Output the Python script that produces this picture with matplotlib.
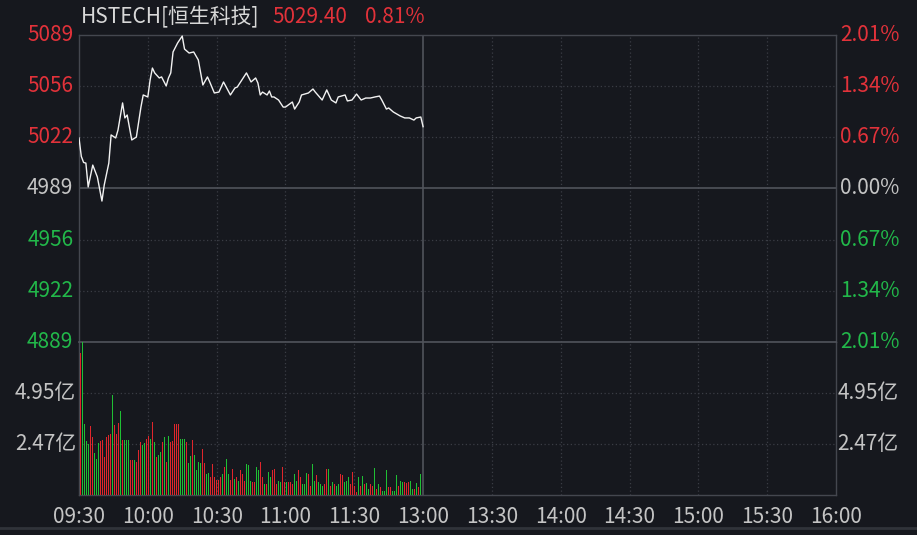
import numpy as np
import matplotlib
matplotlib.use("Agg")
import matplotlib.pyplot as plt

plt.rcParams['font.family'] = ['Noto Sans CJK SC', 'DejaVu Sans']

# ---------------- data ----------------
title_name = "HSTECH[恒生科技]"
last_price = 5029.40
change_pct = 0.81
prev_close = 4989.0

# minutes after 09:30 (trading minutes) and index level
price_minutes = [0, 1, 2, 3, 4, 6, 8, 10, 11, 13, 14, 16, 17, 19, 20, 21, 23, 25, 27, 28,
                 30, 31, 32, 33, 35, 36, 38, 39, 40, 41, 43, 45, 46, 48, 50, 52, 54, 56, 57, 59,
                 61, 63, 66, 68, 69, 73, 75, 77, 78, 79, 80, 82, 83, 84, 85, 87, 89, 90, 93, 94,
                 96, 97, 100, 102, 103, 106, 108, 110, 112, 113, 116, 117, 119, 121, 123, 125, 127, 129, 131, 132,
                 134, 135, 137, 140, 142, 144, 146, 147, 149, 150]
price_values = [5022.0, 5010.0, 5006.0, 5005.6, 4990.0, 5004.3, 4996.5, 4980.8, 4991.3, 5005.6,
                5024.0, 5022.0, 5027.2, 5044.9, 5035.1, 5037.0, 5020.7, 5022.6, 5042.2, 5050.1,
                5048.8, 5059.9, 5067.7, 5064.5, 5061.2, 5061.9, 5056.0, 5061.2, 5064.5, 5078.2,
                5084.1, 5088.6, 5080.1, 5077.5, 5078.2, 5073.0, 5056.6, 5061.9, 5058.6, 5051.4,
                5052.0, 5058.6, 5050.1, 5054.7, 5055.3, 5064.5, 5058.6, 5061.2, 5057.9, 5050.1,
                5052.0, 5050.1, 5052.7, 5048.8, 5048.8, 5046.8, 5042.2, 5042.2, 5045.5, 5040.9,
                5045.5, 5050.1, 5051.4, 5054.0, 5052.0, 5046.8, 5053.4, 5046.8, 5044.9, 5048.8,
                5050.1, 5046.2, 5046.8, 5050.7, 5046.8, 5048.1, 5048.1, 5048.8, 5049.4, 5046.8,
                5040.9, 5041.6, 5039.0, 5036.4, 5035.1, 5035.1, 5033.7, 5035.1, 5035.7, 5029.4]

# volume bars (亿) and direction (r = up, g = down)
volumes = [6.90, 7.42, 3.42, 2.61, 2.46, 3.34, 2.82, 2.04, 1.76, 2.54,
           2.63, 2.66, 1.84, 2.79, 2.90, 2.98, 4.86, 3.39, 2.98, 3.47,
           4.09, 2.66, 2.66, 2.66, 2.66, 1.68, 1.68, 1.68, 1.60, 2.17,
           2.58, 2.41, 2.50, 2.74, 2.85, 2.74, 3.56, 2.58, 1.84, 1.92,
           2.09, 2.58, 2.82, 1.60, 2.85, 2.58, 2.61, 3.42, 3.42, 3.42,
           2.74, 2.74, 2.74, 2.58, 1.55, 1.88, 2.66, 1.92, 1.19, 1.60,
           1.55, 2.25, 1.55, 1.03, 1.06, 0.86, 1.52, 0.86, 0.73, 0.73,
           0.86, 1.03, 1.35, 1.76, 1.03, 0.73, 1.27, 0.78, 0.86, 0.70,
           1.22, 1.03, 0.70, 1.52, 1.44, 0.70, 0.62, 0.62, 1.35, 1.19,
           1.60, 0.86, 0.54, 0.54, 1.11, 0.86, 1.19, 1.27, 0.54, 0.70,
           0.62, 1.35, 0.62, 0.62, 0.62, 0.62, 0.54, 1.03, 0.70, 1.19,
           0.86, 0.54, 0.54, 1.06, 1.03, 0.46, 1.48, 0.70, 0.95, 0.62,
           0.54, 0.46, 0.54, 1.27, 1.27, 0.46, 0.62, 0.54, 0.46, 0.54,
           1.03, 0.99, 0.62, 0.70, 0.86, 0.54, 1.11, 0.46, 0.13, 0.86,
           0.46, 0.90, 0.54, 0.57, 0.29, 0.54, 0.46, 1.32, 0.29, 0.54,
           0.38, 0.21, 0.21, 1.19, 0.41, 0.38, 0.21, 0.18, 0.95, 0.46,
           0.70, 0.62, 0.62, 0.57, 0.62, 0.70, 0.29, 0.29, 0.57, 0.38,
           1.03]
directions = ("rggggrrggg" "rrrrrrgrrr" "grgggrrgrr" "rggrrgrgrg" "grgrgrrrrr"
              "gggrggrggg" "grrggrrrrr" "rgrggrrgrg" "rrrgggrrgg" "rrgrggrrrg"
              "grrgrrrggr" "rgggrrggrg" "ggrrgrgrgg" "rrgggrrrrg" "rgrggrrgrg"
              "rgggrrgggr" "ggrrrggrgrg")

time_labels = ["09:30", "10:00", "10:30", "11:00", "11:30", "13:00",
               "13:30", "14:00", "14:30", "15:00", "15:30", "16:00"]
price_labels = ["5089", "5056", "5022", "4989", "4956", "4922", "4889"]
pct_labels = ["2.01%", "1.34%", "0.67%", "0.00%", "0.67%", "1.34%", "2.01%"]
pct_steps = [3, 2, 1, 0, -1, -2, -3]
vol_ticks = [4.95, 2.47]
vol_labels = ["4.95亿", "2.47亿"]

# ---------------- style ----------------
BG = "#16181e"
RED = "#e2323a"
GREEN = "#22b84a"
BAR_RED = "#e0262c"
BAR_GREEN = "#1fbf34"
GRAY_TXT = "#c4c4c4"
GRID = "#3a3d45"
FRAME = "#44474f"
step = 0.0067

W, H = 917, 535
fig = plt.figure(figsize=(W/100, H/100), dpi=100, facecolor=BG)
ax_left, ax_w = 79, 757
ax = fig.add_axes([ax_left/W, 1-342/H, ax_w/W, 307/H], facecolor=BG)
axv = fig.add_axes([ax_left/W, 1-495/H, ax_w/W, 153/H], facecolor=BG, sharex=ax)

total_minutes = 330
ylo = prev_close * (1 - 3 * step)
yhi = prev_close * (1 + 3 * step)
ax.set_xlim(0, total_minutes)
ax.set_ylim(ylo, yhi)
axv.set_ylim(0, 3 * vol_ticks[1] + 0.01)

# grid
tick_minutes = np.arange(0, total_minutes + 1, 30)
for a in (ax, axv):
    for m in tick_minutes[1:-1]:
        if m == 150:
            a.axvline(m, color="#50535b", lw=1.2, zorder=1)
        else:
            a.axvline(m, color=GRID, lw=0.9, ls=(0, (1, 2)), zorder=1)
    for s in a.spines.values():
        s.set_color(FRAME)
        s.set_linewidth(1.0)
    a.set_xticks([])
    a.set_yticks([])

price_tick_pos = [prev_close * (1 + k * step) for k in pct_steps]
for k, p in zip(pct_steps, price_tick_pos):
    if k == 0:
        ax.axhline(p, color="#50535b", lw=1.2, zorder=1)
    elif abs(k) < 3:
        ax.axhline(p, color=GRID, lw=0.9, ls=(0, (1, 2)), zorder=1)
for v in vol_ticks:
    axv.axhline(v, color=GRID, lw=0.9, ls=(0, (1, 2)), zorder=1)
axv.spines["top"].set_color("#50535b")
axv.spines["top"].set_linewidth(1.2)

# price line
ax.plot(price_minutes, price_values, color="#f2f2f2", lw=1.0, zorder=3)

# volume bars: one bar every 2 screen pixels, 1 pixel wide
min_per_px = total_minutes / ax_w
vx = (1.5 + 2 * np.arange(len(volumes))) * min_per_px
cols = [BAR_RED if d == "r" else BAR_GREEN for d in directions[:len(volumes)]]
axv.bar(vx, volumes, width=0.9 * min_per_px, color=cols, zorder=3,
        linewidth=0, antialiased=False)

# axis labels
FS = 15
def lab_color(k):
    return RED if k > 0 else (GREEN if k < 0 else GRAY_TXT)

for k, p, pl, cl in zip(pct_steps, price_tick_pos, price_labels, pct_labels):
    c = lab_color(k)
    ax.annotate(pl, xy=(0, p), xycoords=("axes fraction", "data"),
                xytext=(-4, 0), textcoords="offset points",
                ha="right", va="center", color=c, fontsize=FS, annotation_clip=False)
    ax.annotate(cl, xy=(1, p), xycoords=("axes fraction", "data"),
                xytext=(3, 0), textcoords="offset points",
                ha="left", va="center", color=c, fontsize=FS, annotation_clip=False)
for v, vl in zip(vol_ticks, vol_labels):
    axv.annotate(vl, xy=(0, v), xycoords=("axes fraction", "data"),
                 xytext=(-2, 0), textcoords="offset points",
                 ha="right", va="center", color=GRAY_TXT, fontsize=FS)
    axv.annotate(vl, xy=(1, v), xycoords=("axes fraction", "data"),
                 xytext=(1, 0), textcoords="offset points",
                 ha="left", va="center", color=GRAY_TXT, fontsize=FS)

for m, tl in zip(tick_minutes, time_labels):
    axv.annotate(tl, xy=(m, 0), xycoords=("data", "axes fraction"),
                 xytext=(0, -16), textcoords="offset points",
                 ha="center", va="center", color=GRAY_TXT, fontsize=FS,
                 annotation_clip=False)

# title
fig.text(81/W, 1-17/H, title_name, color="#d8d8d8", fontsize=FS, ha="left", va="center")
fig.text(272/W, 1-17/H, f"{last_price:.2f}", color=RED, fontsize=FS, ha="left", va="center")
fig.text(365/W, 1-17/H, f"{change_pct:.2f}%", color=RED, fontsize=FS, ha="left", va="center")

# bottom separator
fig.add_artist(plt.Line2D([0, 1], [1-528/H, 1-528/H], color="#30333a", lw=2))

fig.savefig("out.png", dpi=100, facecolor=BG)
